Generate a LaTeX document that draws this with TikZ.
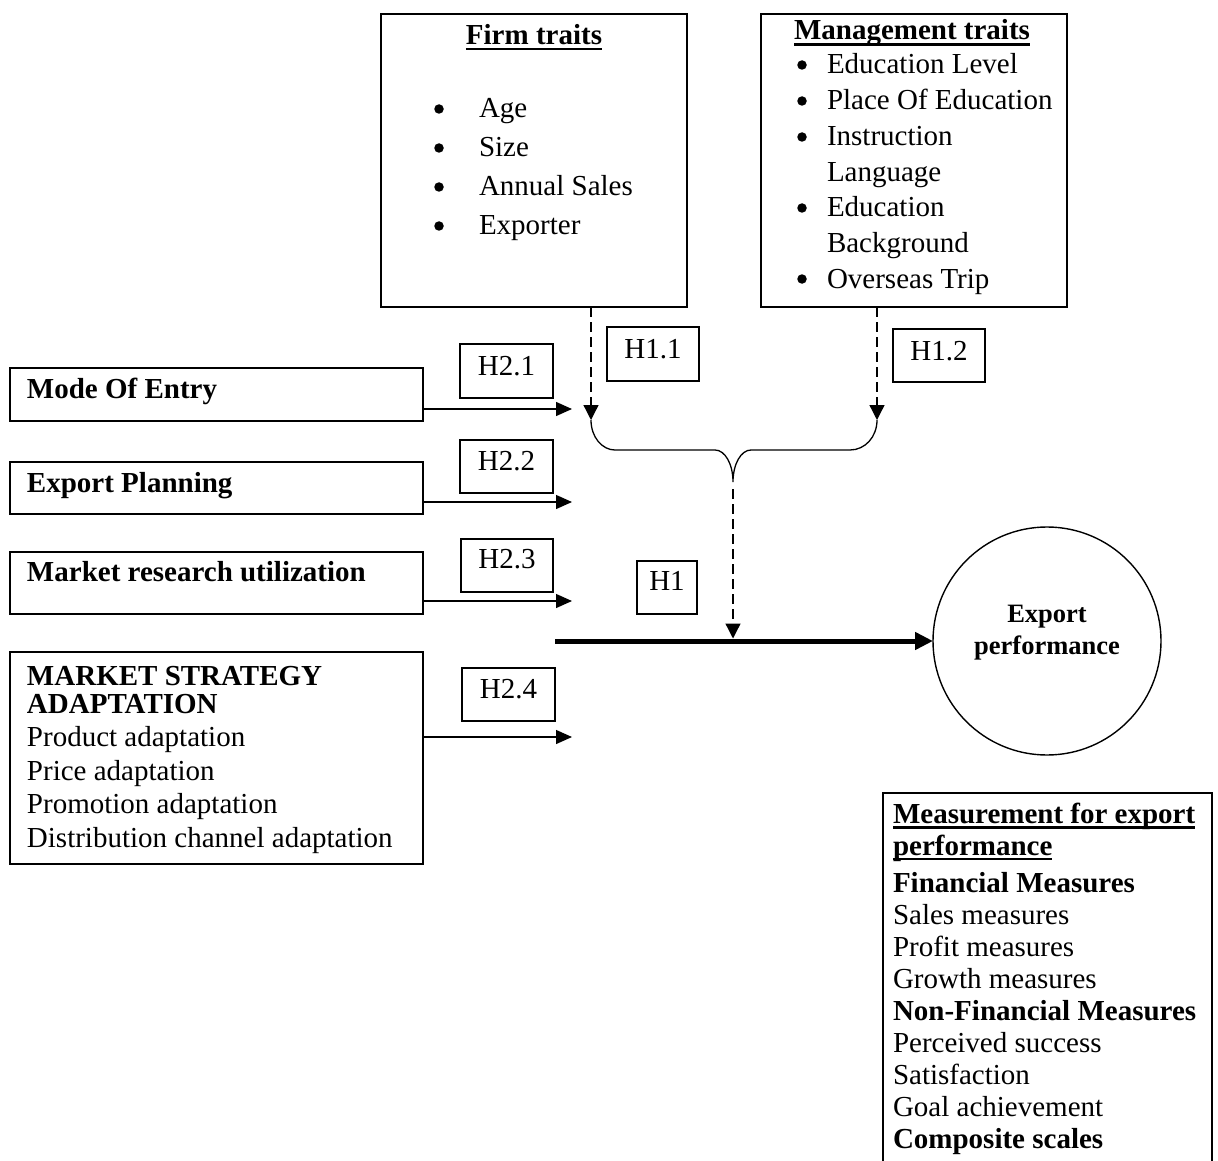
\documentclass[tikz,border=0pt]{standalone}
\usepackage{fontspec}
\setmainfont{Liberation Serif}
\usetikzlibrary{arrows.meta}
\begin{document}
\begin{tikzpicture}[x=1pt,y=-1pt,
  frame/.style={draw, line width=1.4pt, rectangle, inner sep=0pt, outer sep=0pt},
  hyp/.style={frame, minimum width=93pt, minimum height=53pt},
  body/.style={inner sep=0pt, outer sep=0pt, anchor=base west, font=\fontsize{29}{34}\selectfont},
  head/.style={body, font=\fontsize{29}{34}\selectfont\bfseries},
  mid/.style={body, anchor=base},
  dot/.style={circle, fill, inner sep=0pt, outer sep=0pt, minimum size=9.5pt},
  link/.style={line width=1.3pt, -{Triangle[length=16pt,width=14pt]}},
  dlink/.style={line width=1.3pt, dash pattern=on 10pt off 5pt, -{Triangle[length=15pt,width=15pt]}},
  uline/.style={line width=2.6pt},
]
\useasboundingbox (0,0) rectangle (1218,1161);

% ---- top boxes: firm traits and management traits
\node[frame, minimum width=306pt, minimum height=293pt] (firm) at (534,160.5) {};
\node[head, anchor=base] (firmT) at (534,45) {Firm traits};
\draw[uline] ([yshift=-4pt]firmT.base west) -- ([yshift=-4pt]firmT.base east);
\foreach \t [count=\i] in {Age,Size,Annual Sales,Exporter} {
  \node[dot] (fb\i) at (439,70+39*\i) {};
  \node[body] (fi\i) at (479,79+39*\i) {\t};
}

\node[frame, minimum width=306pt, minimum height=293pt] (mgmt) at (914,160.5) {};
\node[head] (mgmtT) at (794,40) {Management traits};
\draw[uline] ([yshift=-4.5pt]mgmtT.base west) -- ([yshift=-4.5pt]mgmtT.base east);
\foreach \y [count=\i] in {74,110,146,217,288}
  \node[dot] (mb\i) at (802,\y-9) {};
\foreach \y/\t [count=\i] in {74/Education Level,110/Place Of Education,146/Instruction,
    182/Language,217/Education,252/Background,288/Overseas Trip}
  \node[body] (mi\i) at (827,\y) {\t};

% ---- left-hand factor boxes
\node[frame, minimum width=413pt, minimum height=53pt] (mode) at (216.5,394.5) {};
\node[head] (modeT) at (27,398) {Mode Of Entry};

\node[frame, minimum width=413pt, minimum height=52pt] (plan) at (216.5,488) {};
\node[head] (planT) at (27,492) {Export Planning};

\node[frame, minimum width=413pt, minimum height=62pt] (mru) at (216.5,583) {};
\node[head] (mruT) at (27,581) {Market research utilization};

\node[frame, minimum width=413pt, minimum height=212pt] (msa) at (216.5,758) {};
\node[head] (msa1) at (27,685) {MARKET STRATEGY};
\node[head] (msa2) at (27,713) {ADAPTATION};
\node[body] (msa3) at (27,746) {Product adaptation};
\node[body] (msa4) at (27,780) {Price adaptation};
\node[body] (msa5) at (27,813) {Promotion adaptation};
\node[body] (msa6) at (27,847) {Distribution channel adaptation};

% ---- hypothesis labels
\node[hyp, minimum height=54pt] (h21) at (506.5,371) {};
\node[mid] (h21T) at (506.5,375) {H2.1};
\node[hyp] (h22) at (506.5,466.5) {};
\node[mid] (h22T) at (506.5,470) {H2.2};
\node[hyp, minimum width=92pt] (h23) at (507,565.5) {};
\node[mid] (h23T) at (507,568) {H2.3};
\node[hyp] (h24) at (508.5,694.5) {};
\node[mid] (h24T) at (508.5,698) {H2.4};
\node[hyp, minimum width=92pt, minimum height=54pt] (h11) at (653,354) {};
\node[mid] (h11T) at (653,358) {H1.1};
\node[hyp, minimum width=92pt] (h12) at (939,355.5) {};
\node[mid] (h12T) at (939,360) {H1.2};
\node[hyp, minimum width=60pt] (h1) at (667,587.5) {};
\node[mid] (h1T) at (667,590) {H1};

% ---- outcome
\node[circle, draw, line width=1.4pt, minimum size=228pt, inner sep=0pt, outer sep=0pt] (ep) at (1047,641) {};
\node[mid, font=\fontsize{26.5}{32}\selectfont\bfseries] (ep1) at (1047,622) {Export};
\node[mid, font=\fontsize{26.5}{32}\selectfont\bfseries] (ep2) at (1047,654) {performance};

% ---- measurement box (runs past the lower edge)
\node[frame, minimum width=329pt, minimum height=382pt] (meas) at (1047.5,984) {};
\node[head] (measT1) at (893,823) {Measurement for export};
\draw[uline] ([yshift=-4.5pt]measT1.base west) -- ([yshift=-4.5pt]measT1.base east);
\node[head] (measT2) at (893,855) {performance};
\draw[uline] ([yshift=-4pt]measT2.base west) -- ([yshift=-4pt]measT2.base east);
\node[head] (ms1) at (893,892) {Financial Measures};
\node[body] (ms2) at (893,924) {Sales measures};
\node[body] (ms3) at (893,956) {Profit measures};
\node[body] (ms4) at (893,988) {Growth measures};
\node[head] (ms5) at (893,1020) {Non-Financial Measures};
\node[body] (ms6) at (893,1052) {Perceived success};
\node[body] (ms7) at (893,1084) {Satisfaction};
\node[body] (ms8) at (893,1116) {Goal achievement};
\node[head] (ms9) at (893,1148) {Composite scales};

% ---- connectors from the left-hand factors
\coordinate (modeEnd) at (572,409);
\coordinate (planEnd) at (572,502);
\coordinate (mruEnd) at (572,601);
\coordinate (msaEnd) at (572,737);
\draw[link] (mode.east |- modeEnd) -- (modeEnd);
\draw[link] (plan.east |- planEnd) -- (planEnd);
\draw[link] (mru.east |- mruEnd) -- (mruEnd);
\draw[link] (msa.east |- msaEnd) -- (msaEnd);

% ---- dashed links from the trait boxes, joined by a brace
\coordinate (t11) at (591,420);
\coordinate (t12) at (877,420);
\coordinate (cusp) at (733,482);
\draw[dlink] (firm.south -| t11) -- (t11);
\draw[dlink] (mgmt.south -| t12) -- (t12);
\draw[line width=1.3pt] (t11) .. controls (591,437) and (602,450) .. (615,450) -- (715,450)
  .. controls (725,450) and (733,464) .. (cusp)
  .. controls (733,464) and (741,450) .. (751,450) -- (850,450)
  .. controls (865,450) and (877,437) .. (t12);

% ---- main path into export performance
\coordinate (mainStart) at (555,641);
\coordinate (onLine) at (733,638.5);
\draw[line width=5pt, -{Triangle[length=18pt,width=17pt]}] (mainStart) -- (ep.west);
\draw[dlink] ([yshift=-7pt]cusp) -- (onLine);
\end{tikzpicture}
\end{document}
